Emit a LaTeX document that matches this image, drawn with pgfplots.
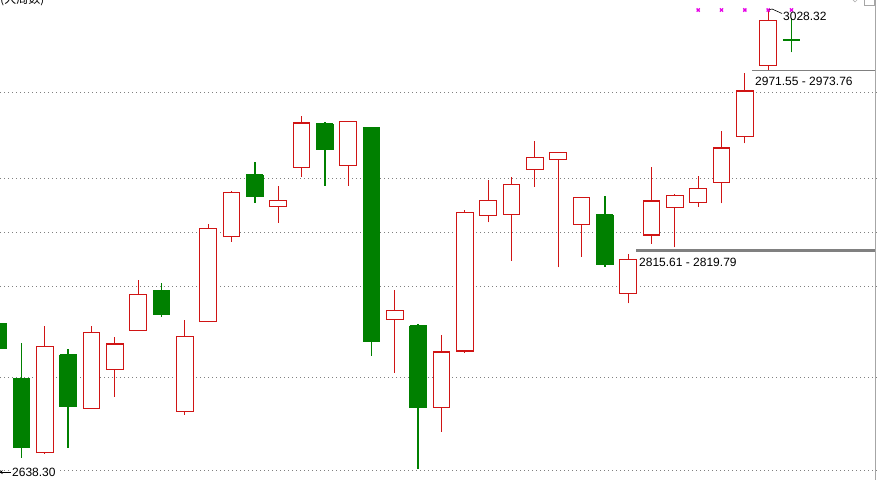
\documentclass[border=0pt]{standalone}
\usepackage{fontspec}
\setmainfont{Liberation Sans}
\newfontfamily\cjk{Noto Sans CJK SC}
\usepackage{pgfplots}
\usepackage{pgfplotstable}
\pgfplotsset{compat=1.18}
\definecolor{upred}{RGB}{208,20,20}
\definecolor{downgreen}{RGB}{0,128,0}
\definecolor{gridgray}{RGB}{128,128,128}
\definecolor{marker}{RGB}{230,0,230}

% candles that closed up (red, hollow)
\pgfplotstableread{
i open high low close
3 2651.90 2759.63 2650.80 2742.37
5 2689.65 2759.63 2689.06 2754.28
6 2722.82 2750.28 2699.52 2744.33
7 2755.98 2798.74 2755.70 2786.59
9 2687.10 2764.73 2683.96 2750.87
10 2763.29 2846.36 2763.00 2842.70
11 2835.56 2874.16 2831.31 2873.31
13 2861.07 2878.67 2847.46 2866.51
14 2894.57 2938.44 2886.58 2932.24
16 2896.27 2933.90 2878.92 2933.68
18 2765.33 2790.24 2719.92 2772.98
20 2690.51 2751.98 2669.76 2737.52
21 2738.38 2858.26 2736.93 2856.31
22 2853.76 2883.77 2847.80 2866.51
23 2854.61 2886.07 2815.15 2880.12
24 2892.87 2916.68 2878.07 2903.07
25 2901.37 2907.50 2809.54 2907.32
26 2846.10 2869.30 2818.56 2869.06
28 2787.44 2820.85 2778.93 2816.35
29 2837.01 2895.08 2829.61 2865.92
30 2860.56 2871.87 2826.55 2870.76
31 2864.81 2887.17 2861.07 2876.71
32 2881.82 2925.18 2863.96 2910.98
33 2920.93 2975.01 2914.98 2959.45
34 2981.30 3028.32 2977.56 3019.56
}\uptable

% candles that closed down (green, filled)
\pgfplotstableread{
i open high low close
1 2761.33 2763.03 2739.23 2740.33
2 2714.57 2745.43 2647.65 2656.15
4 2734.97 2740.08 2656.15 2691.01
8 2789.39 2796.19 2767.54 2769.24
12 2888.02 2899.08 2864.47 2869.57
15 2931.39 2933.09 2878.92 2909.28
17 2927.99 2927.99 2734.38 2746.28
19 2759.63 2761.59 2638.30 2690.16
27 2854.01 2870.17 2810.05 2811.50
35 3002.81 3021.26 2992.35 3002.81
}\downtable

\begin{document}
\begin{tikzpicture}[x=1bp,y=1bp]
\begin{axis}[
  at={(0,0)}, anchor=south west,
  width=877bp, height=480bp, scale only axis,
  xmin=1.0786, xmax=38.665,
  ymin=2628.69, ymax=3036.82,
  axis line style={draw=none},
  xtick=\empty,
  ytick={2637.19,2716.27,2793.64,2839.56,2885.47,2958.60},
  yticklabels={},
  major tick length=0pt,
  ymajorgrids,
  major grid style={gridgray, line width=0.8bp, dash pattern=on 1bp off 3bp},
  clip=true,
]
% wicks
\addplot[draw=none, mark=none,
  error bars/.cd, y dir=plus, y explicit, error mark=none,
  error bar style={draw=upred, line width=1.1bp}]
  table[x=i, y=low, y error plus expr=\thisrow{high}-\thisrow{low}] {\uptable};
\addplot[draw=none, mark=none,
  error bars/.cd, y dir=plus, y explicit, error mark=none,
  error bar style={draw=downgreen, line width=1.4bp}]
  table[x=i, y=low, y error plus expr=\thisrow{high}-\thisrow{low}] {\downtable};
% up bodies: red outer block, then white inner block (inset by about one pixel)
\addplot[draw=none, mark=none,
  error bars/.cd, y dir=plus, y explicit, error mark=none,
  error bar style={draw=upred, line width=17.6bp}]
  table[x=i, y expr=\thisrow{open}-0.45, y error plus expr=\thisrow{close}-\thisrow{open}+0.9] {\uptable};
\addplot[draw=none, mark=none,
  error bars/.cd, y dir=plus, y explicit, error mark=none,
  error bar style={draw=white, line width=15.4bp}]
  table[x=i, y expr=\thisrow{open}+0.5, y error plus expr=\thisrow{close}-\thisrow{open}-1.0] {\uptable};
% down bodies
\addplot[draw=none, mark=none,
  error bars/.cd, y dir=plus, y explicit, error mark=-,
  error mark options={rotate=90, draw=downgreen, line width=1.8bp, mark size=8.6bp},
  error bar style={draw=downgreen, line width=17.5bp}]
  table[x=i, y=close, y error plus expr=\thisrow{open}-\thisrow{close}] {\downtable};
% level lines
\addplot[gridgray, line width=3.5bp] coordinates {(28.34,2823.83) (38.58,2823.83)};
\addplot[gridgray, line width=1bp] coordinates {(33.31,2976.45) (38.58,2976.45)};
% markers
\addplot[only marks, mark=x, mark size=2.2bp, marker, line width=1.3bp]
  coordinates {(31,3028.3) (32,3028.3) (33,3028.3) (34,3028.3) (35,3028.3)};
\end{axis}
% annotations (pixel-like coordinates, origin bottom left)
\draw[gray!70, line width=0.8bp] (875,0) -- (875,480);
\node[anchor=west, inner sep=0pt, font=\fontsize{12bp}{14bp}\selectfont] at (783,463.7) {3028.32};
\draw[black, line width=0.6bp] (769,470) -- (772,471) -- (782,466.5);
\node[anchor=west, inner sep=0pt, font=\fontsize{12bp}{14bp}\selectfont] at (755,399) {2971.55 - 2973.76};
\node[anchor=west, inner sep=0pt, font=\fontsize{12bp}{14bp}\selectfont] at (639,217.5) {2815.61 - 2819.79};
\node[anchor=west, inner sep=1pt, fill=white, font=\fontsize{12bp}{14bp}\selectfont] at (11,7.8) {2638.30};
\draw[black, line width=0.7bp, ->, >=stealth] (11,7.8) -- (-1,7.8);
\node[anchor=base west, inner sep=0pt, font=\cjk\fontsize{12bp}{14bp}\selectfont] at (0,476) {(大周数)};
\draw[gray!60, line width=0.7bp] (851,482) -- (855,478) -- (859,482);
\draw[gray!70, line width=0.7bp] (864,475) rectangle (874,486);
\pgfresetboundingbox
\path[use as bounding box] (0,0) rectangle (877,480);
\end{tikzpicture}
\end{document}
